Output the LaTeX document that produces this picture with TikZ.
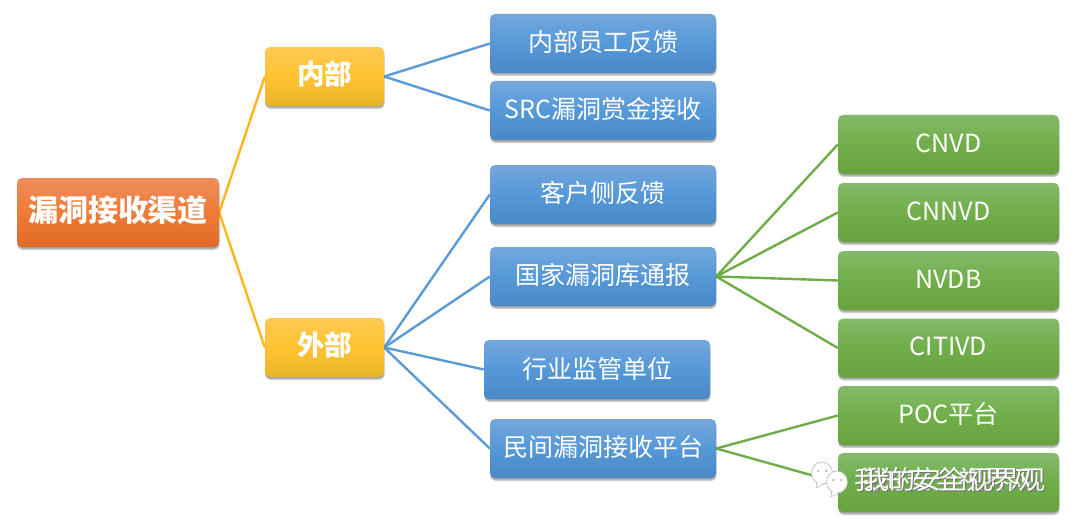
\documentclass[tikz,border=0pt]{standalone}
\usepackage{fontspec}
\setmainfont{Noto Sans CJK SC}
\usetikzlibrary{shadows,backgrounds}
\definecolor{bluetop}{HTML}{74A8DC}
\definecolor{bluemid}{HTML}{5598D8}
\definecolor{bluebot}{HTML}{4A88C6}
\definecolor{greentop}{HTML}{85B96A}
\definecolor{greenmid}{HTML}{6FAE49}
\definecolor{greenbot}{HTML}{66A33F}
\definecolor{yeltop}{HTML}{FDC952}
\definecolor{yelmid}{HTML}{FFC330}
\definecolor{yelbot}{HTML}{E8B428}
\definecolor{ortop}{HTML}{EF8D5C}
\definecolor{ormid}{HTML}{EE7B36}
\definecolor{orbot}{HTML}{E16A27}
\definecolor{bluelinkc}{HTML}{5B9BD5}
\definecolor{greenlinkc}{HTML}{70AD47}
\definecolor{yellinkc}{HTML}{FFB520}
\newcommand{\liftup}[2]{\raisebox{#1}[\height][\depth]{#2}}
\tikzset{
  x=1pt,y=-1pt,
  boxbase/.style={rounded corners=5pt,inner sep=0pt,text=white,align=center,
    general shadow={shadow yshift=-1.5pt,fill=black,opacity=.2},
    general shadow={shadow yshift=-3pt,shadow xshift=.5pt,fill=black,opacity=.2}},
  bluebox/.style={boxbase,minimum width=226pt,minimum height=59pt,font=\fontsize{25}{25}\selectfont,
    top color=bluetop,bottom color=bluebot,middle color=bluemid},
  greenbox/.style={boxbase,minimum width=221pt,minimum height=59pt,font=\fontsize{25}{25}\selectfont,
    top color=greentop,bottom color=greenbot,middle color=greenmid},
  yelbox/.style={boxbase,minimum width=119pt,minimum height=59pt,font=\fontsize{27.5}{28}\selectfont\bfseries,
    top color=yeltop,bottom color=yelbot,middle color=yelmid},
  rootbox/.style={boxbase,minimum width=202pt,minimum height=69pt,font=\fontsize{30}{30}\selectfont\bfseries,
    top color=ortop,bottom color=orbot,middle color=ormid},
  yellink/.style={draw=yellinkc,line width=2.4pt},
  bluelink/.style={draw=bluelinkc,line width=2.4pt},
  greenlink/.style={draw=greenlinkc,line width=2.4pt},
  marktext/.style={text=white,font=\fontsize{26}{26}\selectfont,inner sep=0pt},
  bubble/.style={fill=white,draw=black!28,line width=.6pt},
}
\begin{document}
\begin{tikzpicture}
\useasboundingbox (0,0) rectangle (1080,527);
\node[rootbox] (root) at (118,212.5) {\liftup{2pt}{漏洞接收渠道}};
\node[yelbox] (in) at (324.5,76.5) {\liftup{2.5pt}{内部}};
\node[yelbox] (out) at (324.5,347.5) {\liftup{2.5pt}{外部}};
\node[bluebox] (b1) at (603,43.5) {\liftup{1.5pt}{内部员工反馈}};
\node[bluebox] (b2) at (603,110.5) {\liftup{1.5pt}{SRC漏洞赏金接收}};
\node[bluebox] (b3) at (603,194.5) {\liftup{1.5pt}{客户侧反馈}};
\node[bluebox] (b4) at (603,276.5) {\liftup{1.5pt}{国家漏洞库通报}};
\node[bluebox] (b5) at (597,369.5) {\liftup{1pt}{行业监管单位}};
\node[bluebox] (b6) at (603,448.5) {\liftup{1pt}{民间漏洞接收平台}};
\node[greenbox] (g1) at (948.5,144.5) {\liftup{1.5pt}{CNVD}};
\node[greenbox] (g2) at (948.5,212.5) {\liftup{1.5pt}{CNNVD}};
\node[greenbox] (g3) at (948.5,280.5) {\liftup{1.5pt}{NVDB}};
\node[greenbox] (g4) at (948.5,348) {\liftup{1.5pt}{CITIVD}};
\node[greenbox] (g5) at (948.5,415.5) {\liftup{1.5pt}{POC平台}};
\node[greenbox] (g6) at (948.5,482.5) {};
\begin{scope}[on background layer]
\fill[white] (0,0) rectangle (1080,527);
\draw[yellink] (in.west) -- (root.east) -- (out.west);
\foreach \t in {b1,b2} \draw[bluelink] (in.east) -- (\t.west);
\foreach \t in {b3,b4,b5,b6} \draw[bluelink] (out.east) -- (\t.west);
\foreach \t in {g1,g2,g3,g4} \draw[greenlink] (b4.east) -- (\t.west);
\foreach \t in {g5,g6} \draw[greenlink] (b6.east) -- (\t.west);
\end{scope}
% watermark
\foreach \dx/\dy in {0/0,15/9}{
  \begin{scope}[shift={(\dx,\dy)}]
    \draw[bubble] (817,480) -- (816,488) -- (826,483) -- cycle;
    \draw[bubble] (822,473) ellipse [x radius=10.5,y radius=11];
    \fill[white] (818,481) -- (817.5,486) -- (825,482) -- cycle;
    \fill[black!40] (818,471) circle (1) (826,471) circle (1);
  \end{scope}
}
\node[marktext,text=black!55] (mk1s) at (946,481) {我的安全视界观};
\node[marktext] (mk1) at (945,480) {我的安全视界观};
\node[marktext,text=black!55] (mk2s) at (955,481) {我的安全视界观};
\node[marktext] (mk2) at (954,480) {我的安全视界观};
\end{tikzpicture}
\end{document}
